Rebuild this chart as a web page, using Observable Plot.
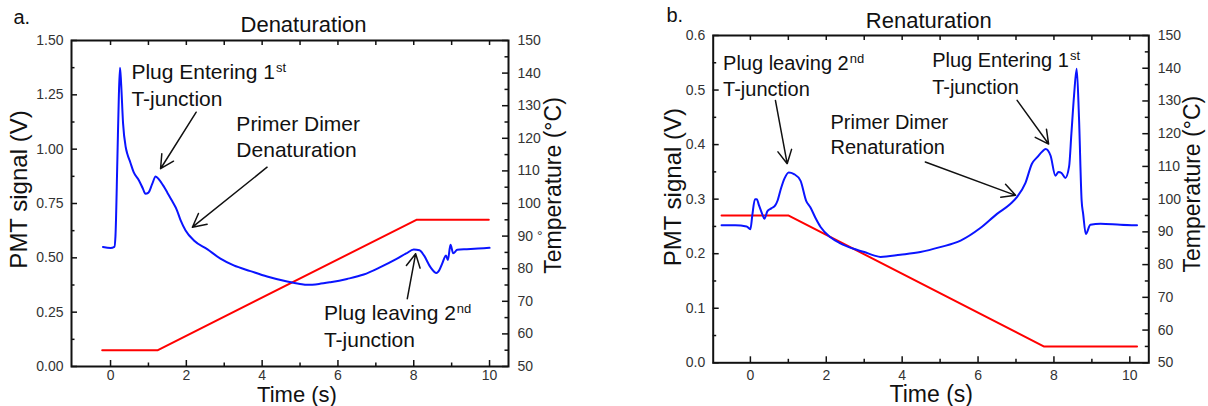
<!DOCTYPE html>
<html><head><meta charset="utf-8">
<script src="https://cdn.jsdelivr.net/npm/d3@7"></script>
<script src="https://cdn.jsdelivr.net/npm/@observablehq/plot@0.6"></script>
<style>
html,body{margin:0;padding:0;background:#fff;}
#wrap{position:relative;width:1208px;height:406px;overflow:hidden;background:#fff;}
#wrap svg{position:absolute;top:0;}
</style></head><body><div id="wrap"></div>
<script>
// ---------- Panel a: Denaturation ----------
const denatTime = [-0.2, 0.0, 0.1, 0.13, 0.18, 0.22, 0.25, 0.28, 0.33, 0.4, 0.44, 0.52, 0.61, 0.75, 0.85, 0.92, 1.0, 1.1, 1.19, 1.28, 1.4, 1.5, 1.63, 1.75, 1.85, 1.98, 2.2, 2.55, 2.9, 3.25, 3.69, 4.13, 4.66, 5.0, 5.19, 5.5, 5.8, 6.24, 6.68, 7.12, 7.56, 7.8, 8.0, 8.15, 8.27, 8.44, 8.6, 8.68, 8.75, 8.85, 8.9, 8.97, 9.04, 9.15, 9.4, 9.7, 10.0];
const denatPMT = [0.55, 0.545, 0.55, 0.6, 0.95, 1.25, 1.375, 1.3, 1.12, 1.01, 0.98, 0.94, 0.894, 0.856, 0.82, 0.795, 0.80, 0.84, 0.874, 0.86, 0.83, 0.80, 0.76, 0.72, 0.672, 0.626, 0.58, 0.54, 0.496, 0.465, 0.439, 0.414, 0.391, 0.38, 0.376, 0.38, 0.388, 0.403, 0.423, 0.457, 0.496, 0.52, 0.538, 0.535, 0.511, 0.457, 0.43, 0.445, 0.473, 0.511, 0.49, 0.56, 0.521, 0.537, 0.54, 0.543, 0.546];
const denatTempTime = [-0.22, 1.25, 8.07, 9.98];
const denatTemp = [55, 55, 95, 95];
const denatNotes = [
  {x: 0.55, y: 1.325, text: "Plug Entering 1", sup: "st"},
  {x: 0.55, y: 1.198, text: "T-junction"},
  {x: 3.32, y: 1.083, text: "Primer Dimer"},
  {x: 3.32, y: 0.966, text: "Denaturation"},
  {x: 5.63, y: 0.212, text: "Plug leaving 2", sup: "nd"},
  {x: 5.63, y: 0.089, text: "T-junction"}
];
const denatArrows = [
  {x1: 2.26, y1: 1.170, x2: 1.32, y2: 0.910},
  {x1: 4.13, y1: 0.917, x2: 2.16, y2: 0.641},
  {x1: 7.83, y1: 0.312, x2: 8.05, y2: 0.519}
];

// ---------- Panel b: Renaturation ----------
const renatTime = [-0.76, -0.4, -0.1, 0.0, 0.05, 0.12, 0.17, 0.22, 0.3, 0.37, 0.45, 0.55, 0.65, 0.72, 0.8, 0.9, 1.01, 1.15, 1.32, 1.47, 1.58, 1.72, 1.85, 2.11, 2.37, 2.72, 3.0, 3.25, 3.43, 3.95, 4.48, 5.0, 5.54, 6.06, 6.5, 6.85, 7.03, 7.25, 7.42, 7.56, 7.7, 7.78, 7.91, 8.04, 8.12, 8.2, 8.3, 8.4, 8.46, 8.53, 8.6, 8.66, 8.73, 8.77, 8.84, 8.96, 9.23, 9.75, 10.19];
const renatPMT = [0.252, 0.252, 0.25, 0.245, 0.27, 0.30, 0.30, 0.29, 0.275, 0.264, 0.278, 0.283, 0.288, 0.298, 0.318, 0.338, 0.349, 0.346, 0.334, 0.297, 0.285, 0.265, 0.249, 0.23, 0.219, 0.209, 0.203, 0.197, 0.194, 0.198, 0.203, 0.212, 0.224, 0.247, 0.273, 0.291, 0.304, 0.33, 0.365, 0.377, 0.388, 0.392, 0.38, 0.343, 0.35, 0.348, 0.339, 0.36, 0.42, 0.49, 0.539, 0.45, 0.297, 0.273, 0.236, 0.253, 0.255, 0.253, 0.252];
const renatTempTime = [-0.76, 1.01, 7.73, 10.19];
const renatTemp = [95, 95, 55, 55];
const renatNotes = [
  {x: -0.72, y: 0.536, text: "Plug leaving 2", sup: "nd"},
  {x: -0.72, y: 0.490, text: "T-junction"},
  {x: 2.11, y: 0.429, text: "Primer Dimer"},
  {x: 2.11, y: 0.383, text: "Renaturation"},
  {x: 4.79, y: 0.542, text: "Plug Entering 1", sup: "st"},
  {x: 4.79, y: 0.493, text: "T-junction"}
];
const renatArrows = [
  {x1: 0.66, y1: 0.481, x2: 0.97, y2: 0.365},
  {x1: 4.61, y1: 0.368, x2: 6.99, y2: 0.307},
  {x1: 7.03, y1: 0.481, x2: 7.86, y2: 0.401}
];

// ---------- Tick values ----------
const xMajor = [0, 2, 4, 6, 8, 10];
const xMinor = [1, 3, 5, 7, 9];
const xAll = [0, 1, 2, 3, 4, 5, 6, 7, 8, 9, 10];
const denatYMajor = [0, 0.25, 0.5, 0.75, 1.0, 1.25, 1.5];
const denatYMinor = [0.125, 0.375, 0.625, 0.875, 1.125, 1.375];
const renatYMajor = [0, 0.1, 0.2, 0.3, 0.4, 0.5, 0.6];
const renatYMinor = [0.05, 0.15, 0.25, 0.35, 0.45, 0.55];
const tempMajor = [50, 60, 70, 80, 90, 100, 110, 120, 130, 140, 150];
const tempMinor = [55, 65, 75, 85, 95, 105, 115, 125, 135, 145];

const FONT = "'Liberation Sans', Arial, Helvetica, sans-serif";
const ctx = document.createElement("canvas").getContext("2d");
function textWidth(t, size) { ctx.font = `${size}px 'Liberation Sans', Arial, sans-serif`; return ctx.measureText(t).width; }

function panel(cfg) {
  const {left, width, height, ml, mr, mt, mb, xDomain, yMax, yMajor, yMinor, yFmt,
    time, pmt, tTime, temp, notes, arrows, noteSize, tag, title, titleDx, titleDy, tagDx, tagDy,
    yLab, tLab, xLab, xPad, tempLabel} = cfg;
  const fw = width - ml - mr, fh = height - mt - mb;
  const toY = T => (T - 50) / 100 * yMax;
  const pmtRows = time.map((t, i) => ({t, v: pmt[i]}));
  const tempRows = tTime.map((t, i) => ({t, T: temp[i]}));
  const supRows = notes.filter(d => d.sup).map(d => ({...d, w: textWidth(d.text, noteSize)}));
  const ink = "#111";
  const svg = Plot.plot({
    width, height, marginLeft: ml, marginRight: mr, marginTop: mt, marginBottom: mb,
    x: {domain: xDomain, label: null},
    y: {domain: [0, yMax], label: null},
    style: {fontFamily: FONT, background: "transparent", overflow: "visible", color: ink},
    marks: [
      // ticks (inside)
      Plot.ruleX(xMajor, {insetTop: fh - 6, stroke: ink, strokeWidth: 1.5}),
      Plot.ruleX(xMinor, {insetTop: fh - 3.5, stroke: ink, strokeWidth: 1.5}),
      Plot.ruleX(xAll, {insetBottom: fh - 5, stroke: ink, strokeWidth: 1.5}),
      Plot.ruleY(yMajor, {insetRight: fw - 6, stroke: ink, strokeWidth: 1.5}),
      Plot.ruleY(yMinor, {insetRight: fw - 3.5, stroke: ink, strokeWidth: 1.5}),
      Plot.ruleY(tempMajor.map(toY), {insetLeft: fw - 6, stroke: ink, strokeWidth: 1.5}),
      Plot.ruleY(tempMinor.map(toY), {insetLeft: fw - 3.5, stroke: ink, strokeWidth: 1.5}),
      // axes labels
      Plot.axisX(xMajor, {tickSize: 0, tickPadding: xPad, fontSize: 14, fill: "#333", label: null}),
      Plot.axisY(yMajor, {anchor: "left", tickSize: 0, tickPadding: 8, fontSize: 14, fill: "#333", tickFormat: yFmt, label: null}),
      Plot.axisY(tempMajor.map(toY), {anchor: "right", tickSize: 0, tickPadding: 9, fontSize: 14, fill: "#333",
        tickFormat: v => tempLabel(Math.round(v / yMax * 100 + 50)), label: null}),
      // data
      Plot.line(tempRows, {x: "t", y: d => toY(d.T), stroke: "#ff0000", strokeWidth: 2}),
      Plot.line(pmtRows, {x: "t", y: "v", stroke: "#0a14ff", strokeWidth: 2, curve: "monotone-x"}),
      Plot.frame({stroke: ink, strokeWidth: 2}),
      // annotations
      Plot.text(notes, {x: "x", y: "y", text: "text", textAnchor: "start", lineAnchor: "bottom", fontSize: noteSize, fill: ink}),
      Plot.text(supRows, {x: "x", y: "y", text: "sup", textAnchor: "start", lineAnchor: "bottom", fontSize: 13, fill: ink}),
      Plot.arrow(arrows, {x1: "x1", y1: "y1", x2: "x2", y2: "y2", stroke: ink, strokeWidth: 1.5, headLength: 15, headAngle: 55}),
      // titles and axis titles
      Plot.text([title], {frameAnchor: "top", dx: titleDx, dy: titleDy, textAnchor: "middle", lineAnchor: "bottom", fontSize: 22, fill: ink}),
      Plot.text([tag], {frameAnchor: "top-left", dx: tagDx, dy: tagDy, textAnchor: "start", lineAnchor: "bottom", fontSize: 20, fill: ink}),
      Plot.text(["PMT signal (V)"], {frameAnchor: "left", rotate: -90, dx: yLab.dx, dy: yLab.dy, textAnchor: "middle", lineAnchor: "bottom", fontSize: 24, fill: ink}),
      Plot.text(["Temperature (°C)"], {frameAnchor: "right", rotate: -90, dx: tLab.dx, dy: tLab.dy, textAnchor: "middle", lineAnchor: "bottom", fontSize: 23, fill: ink}),
      Plot.text(["Time (s)"], {frameAnchor: "bottom", dx: xLab.dx, dy: xLab.dy, textAnchor: "middle", lineAnchor: "bottom", fontSize: xLab.size, fill: ink})
    ]
  });
  svg.style.left = left + "px";
  return {svg, supRows};
}

function fixSup(svg, supRows) {
  // superscript text elements: raise and offset them after the main text width
  const groups = svg.querySelectorAll("g[aria-label='text']");
  groups.forEach(g => {
    const texts = g.querySelectorAll("text");
    if (texts.length === supRows.length && texts.length > 0 && texts[0].textContent === supRows[0].sup) {
      texts.forEach((t, i) => {
        const tr = t.getAttribute("transform") || "";
        t.setAttribute("transform", tr + ` translate(${supRows[i].w + 1},-7)`);
      });
    }
  });
}

const wrap = document.getElementById("wrap");
const a = panel({
  left: 0, width: 604, height: 406, ml: 71, mr: 96, mt: 40, mb: 40,
  xDomain: [-1.03, 10.5], yMax: 1.5, yMajor: denatYMajor, yMinor: denatYMinor, yFmt: d3.format(".2f"),
  time: denatTime, pmt: denatPMT, tTime: denatTempTime, temp: denatTemp,
  notes: denatNotes, arrows: denatArrows, noteSize: 21,
  tag: "a.", title: "Denaturation", titleDx: 13.5, titleDy: -8.3, tagDx: -58, tagDy: -17,
  yLab: {dx: -44.3, dy: -14}, tLab: {dx: 52, dy: -18}, xLab: {dx: 7, dy: 35, size: 22}, xPad: 4,
  tempLabel: T => T === 90 ? "90 °" : String(T)
});
const b = panel({
  left: 604, width: 604, height: 406, ml: 108.7, mr: 59.7, mt: 35, mb: 43.7,
  xDomain: [-0.98, 10.5], yMax: 0.6, yMajor: renatYMajor, yMinor: renatYMinor, yFmt: d3.format(".1f"),
  time: renatTime, pmt: renatPMT, tTime: renatTempTime, temp: renatTemp,
  notes: renatNotes, arrows: renatArrows, noteSize: 20,
  tag: "b.", title: "Renaturation", titleDx: -2.2, titleDy: -7.7, tagDx: -46.7, tagDy: -13.3,
  yLab: {dx: -32.7, dy: -12}, tLab: {dx: 50.7, dy: -15}, xLab: {dx: 0.3, dy: 38.7, size: 23}, xPad: 7,
  tempLabel: T => String(T)
});
wrap.appendChild(a.svg);
wrap.appendChild(b.svg);
fixSup(a.svg, a.supRows);
fixSup(b.svg, b.supRows);
</script></body></html>
